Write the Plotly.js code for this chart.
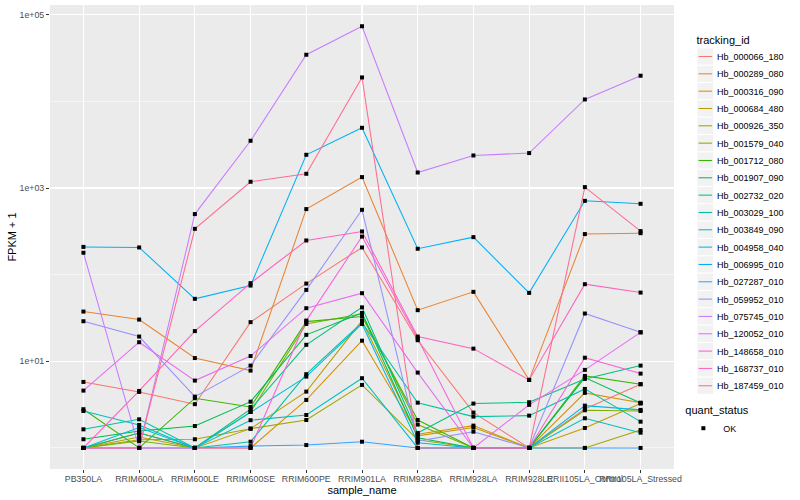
<!DOCTYPE html>
<html>
<head>
<meta charset="utf-8">
<script src="https://cdn.plot.ly/plotly-3.0.1.min.js"></script>
<style>html,body{margin:0;padding:0;background:#fff;}#chart{width:800px;height:500px;}</style>
</head>
<body>
<div id="chart"></div>
<script>
// ---- data (FPKM + 1) ----
const categories = ['PB350LA','RRIM600LA','RRIM600LE','RRIM600SE','RRIM600PE','RRIM901LA','RRIM928BA','RRIM928LA','RRIM928LE','RRII105LA_Control','RRII105LA_Stressed'];

const Hb_000066_180 = [5.78, 4.43, 3.20, 28.3, 78.9, 206, 17.5, 2.56, 1, 2.82, 5.44];
const Hb_000289_080 = [37.5, 30.3, 10.9, 7.81, 571, 1336, 38.9, 63.3, 6.10, 294, 301];
const Hb_000316_090 = [1, 1.49, 1, 1, 3.58, 17.3, 1.44, 1.81, 1, 4.32, 3.33];
const Hb_000684_480 = [1, 1.34, 1, 1.67, 4.47, 29.3, 1.38, 1.72, 1, 1.70, 3.25];
const Hb_000926_350 = [1, 1.24, 1.26, 1.67, 2.10, 5.34, 1.24, 1, 1, 1, 1.61];
const Hb_001579_040 = [1, 1.20, 1, 2.60, 27.0, 35.3, 1.86, 1, 1, 2.72, 2.67];
const Hb_001712_080 = [2.80, 1, 3.75, 2.97, 28.7, 32.8, 2.10, 1, 1, 6.78, 5.44];
const Hb_001907_090 = [1.26, 1.57, 1.79, 3.42, 20.2, 36.2, 1.31, 1, 1, 6.48, 3.30];
const Hb_002732_020 = [1, 1.49, 1, 2.80, 15.5, 41.9, 1.49, 3.25, 3.37, 6.26, 8.92];
const Hb_003029_100 = [1.64, 2.14, 1, 1.18, 7.10, 28.0, 3.33, 2.30, 2.36, 4.80, 2.01];
const Hb_003849_090 = [2.67, 1.84, 1, 2.09, 2.40, 6.38, 1, 1, 1, 2.20, 1.50];
const Hb_004958_040 = [1, 1.72, 1, 2.60, 6.66, 27.0, 1.15, 1, 1, 3.08, 2.75];
const Hb_006995_010 = [209, 206, 52.6, 74.8, 2417, 4955, 199, 271, 61.6, 711, 657];
const Hb_027287_010 = [1, 1, 1, 1.05, 1.08, 1.18, 1, 1, 1, 1, 1];
const Hb_059952_010 = [29.0, 19.3, 3.91, 8.92, 66.7, 560, 1.20, 1.54, 1, 35.6, 21.6];
const Hb_075745_010 = [179, 1, 500, 3508, 34500, 73600, 1510, 2373, 2530, 10520, 19760];
const Hb_120052_010 = [4.59, 16.6, 5.99, 11.5, 41.0, 61.1, 7.41, 1, 3.14, 7.96, 21.6];
const Hb_148658_010 = [1, 1, 1, 1, 29.5, 275, 18.3, 1, 1, 11.0, 7.21];
const Hb_168737_010 = [1, 4.55, 22.3, 79.8, 248, 315, 19.3, 14.0, 6.10, 77.6, 62.1];
const Hb_187459_010 = [1, 1, 338, 1180, 1459, 18880, 1, 1, 1, 1024, 318];

const trackingIds = ['Hb_000066_180','Hb_000289_080','Hb_000316_090','Hb_000684_480','Hb_000926_350','Hb_001579_040','Hb_001712_080','Hb_001907_090','Hb_002732_020','Hb_003029_100','Hb_003849_090','Hb_004958_040','Hb_006995_010','Hb_027287_010','Hb_059952_010','Hb_075745_010','Hb_120052_010','Hb_148658_010','Hb_168737_010','Hb_187459_010'];
const seriesValues = [Hb_000066_180, Hb_000289_080, Hb_000316_090, Hb_000684_480, Hb_000926_350, Hb_001579_040, Hb_001712_080, Hb_001907_090, Hb_002732_020, Hb_003029_100, Hb_003849_090, Hb_004958_040, Hb_006995_010, Hb_027287_010, Hb_059952_010, Hb_075745_010, Hb_120052_010, Hb_148658_010, Hb_168737_010, Hb_187459_010];
const quantStatus = 'OK';

const yTickVals = [10, 1000, 100000];
const yTickText = ['1e+01', '1e+03', '1e+05'];
const yMinorVals = [1, 100, 10000];

// ---- styles ----
const palette = ['#F8766D','#EA8331','#D89000','#C09B00','#A3A500','#7CAE00','#39B600','#00BB4E','#00BF7D','#00C1A3','#00BFC4','#00BAE0','#00B0F6','#35A2FF','#9590FF','#C77CFF','#E76BF3','#FA62DB','#FF62BC','#FF6C91'];
const FONT = 'Liberation Sans, Arial, Helvetica, sans-serif';

const traces = trackingIds.map((id, i) => ({
  type: 'scatter', mode: 'lines', name: id,
  x: categories, y: seriesValues[i],
  line: {color: palette[i], width: 1.05},
  legend: 'legend', hoverinfo: 'skip'
}));

traces.push({
  type: 'scatter', mode: 'markers', name: quantStatus,
  x: seriesValues.flatMap(() => categories),
  y: seriesValues.flatMap(v => v),
  marker: {symbol: 'square', size: 4, color: '#000000', line: {width: 0}},
  legend: 'legend2', hoverinfo: 'skip'
});

const layout = {
  width: 800, height: 500,
  margin: {l: 50, r: 116, t: 5, b: 31},
  paper_bgcolor: '#FFFFFF',
  plot_bgcolor: '#EBEBEB',
  font: {family: FONT, size: 9, color: '#000'},
  showlegend: true,
  xaxis: {
    type: 'category',
    range: [-0.6, 10.6],
    showgrid: true, gridcolor: '#FFFFFF', gridwidth: 1.1,
    zeroline: false, showline: false,
    ticks: 'outside', ticklen: 3, tickcolor: '#333333', tickwidth: 1,
    tickangle: 0, ticklabelstandoff: -2,
    tickfont: {family: FONT, size: 8.8, color: '#4D4D4D'},
    title: {text: 'sample_name', font: {family: FONT, size: 11, color: '#000'}, standoff: 1},
    fixedrange: true
  },
  yaxis: {
    type: 'log',
    range: [-0.243, 5.112],
    tickvals: yTickVals, ticktext: yTickText,
    showgrid: true, gridcolor: '#FFFFFF', gridwidth: 1.1,
    minor: {tickvals: yMinorVals, showgrid: true, gridcolor: '#FFFFFF', gridwidth: 0.5, ticks: ''},
    zeroline: false, showline: false,
    ticks: 'outside', ticklen: 3, tickcolor: '#333333', tickwidth: 1,
    tickfont: {family: FONT, size: 8.8, color: '#4D4D4D'},
    title: {text: 'FPKM + 1', font: {family: FONT, size: 11, color: '#000'}, standoff: 0},
    fixedrange: true
  },
  legend: {
    x: 1.015, xanchor: 'left', y: 0.955, yanchor: 'top',
    bgcolor: 'rgba(0,0,0,0)',
    title: {text: 'tracking_id', font: {family: FONT, size: 11, color: '#000'}},
    font: {family: FONT, size: 9, color: '#000'},
    itemwidth: 30, tracegroupgap: 0
  },
  legend2: {
    x: 1.015, xanchor: 'left', y: 0.15, yanchor: 'top',
    bgcolor: 'rgba(0,0,0,0)',
    title: {text: 'quant_status', font: {family: FONT, size: 11, color: '#000'}},
    font: {family: FONT, size: 9, color: '#000'},
    itemwidth: 30
  }
};

// ggplot-like legend keys: compact spacing, grey key boxes, short key lines
function parseT(el) {
  const t = el.getAttribute('transform') || '';
  const m = /translate\(\s*([-\d.e]+)[\s,]+([-\d.e]+)\s*\)/.exec(t);
  return m ? [+m[1], +m[2]] : [0, 0];
}
function tweakLegend(cls, opts) {
  const chart = document.getElementById('chart');
  const g = chart.querySelector('g.infolayer g.' + cls);
  if (!g) return;
  const cr = chart.getBoundingClientRect();
  g.querySelectorAll('[clip-path]').forEach(e => e.removeAttribute('clip-path'));
  const items = Array.from(g.querySelectorAll('g.traces'));
  if (!items.length) return;
  const texts = items.map(it => it.querySelector('text.legendtext'));
  const [gx, gy] = parseT(g);
  const r0 = texts[0].getBoundingClientRect();
  const dx = opts.textLeft - (r0.left - cr.left);
  g.setAttribute('transform', 'translate(' + (gx + dx) + ',' + gy + ')');
  const cy0 = (r0.top + r0.bottom) / 2 - cr.top;
  const dy = opts.firstY - cy0;
  const iy0 = parseT(items[0])[1];
  items.forEach((it, i) => {
    const ix = parseT(it)[0];
    it.setAttribute('transform', 'translate(' + ix + ',' + (iy0 + dy + i * opts.spacing) + ')');
    const tx = parseFloat(texts[i].getAttribute('x')) || 40;
    const rect = document.createElementNS('http://www.w3.org/2000/svg', 'rect');
    rect.setAttribute('x', tx - 19.5); rect.setAttribute('y', -8.1);
    rect.setAttribute('width', 15.6); rect.setAttribute('height', 16.2);
    rect.setAttribute('fill', '#F2F2F2');
    it.insertBefore(rect, it.firstChild);
    it.querySelectorAll('g.legendlines path').forEach(p => p.setAttribute('d', 'M' + (tx - 18.5) + ',0h13.6'));
    it.querySelectorAll('g.legendsymbols path.scatterpts').forEach(p => p.setAttribute('transform', 'translate(' + (tx - 11.7) + ',0)'));
  });
  const title = g.querySelector('text.legendtitletext');
  if (title) {
    const rt = title.getBoundingClientRect();
    const tdx = opts.titleLeft - (rt.left - cr.left);
    const tdy = opts.titleY - ((rt.top + rt.bottom) / 2 - cr.top);
    const [tx0, ty0] = parseT(title);
    title.setAttribute('transform', 'translate(' + (tx0 + tdx) + ',' + (ty0 + tdy) + ')');
  }
}

Plotly.newPlot('chart', traces, layout, {staticPlot: true, displayModeBar: false}).then(() => {
  try { tweakLegend('legend', {textLeft: 717, firstY: 57, spacing: 17.33, titleLeft: 696.5, titleY: 40}); } catch (e) {}
  try { tweakLegend('legend2', {textLeft: 717, firstY: 429, spacing: 17.33, titleLeft: 696.5, titleY: 412}); } catch (e) {}
});
</script>
</body>
</html>
